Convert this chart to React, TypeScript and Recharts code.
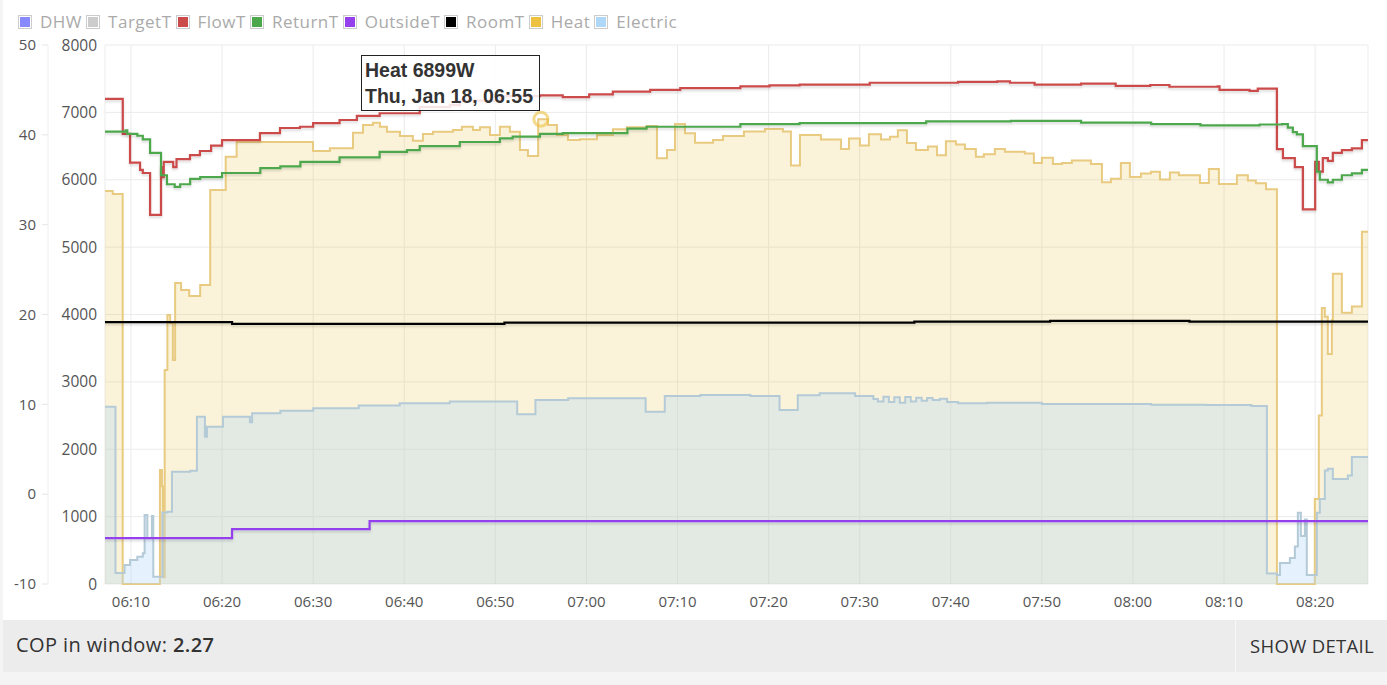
import React from "react";
import { ComposedChart, Line, Area, XAxis, YAxis, CartesianGrid, ReferenceDot } from "recharts";

// Heat pump window, Thu Jan 18 — times are minutes after 06:00
const FONT = "'Open Sans', 'Noto Sans', sans-serif";

const xTicks = [10, 20, 30, 40, 50, 60, 70, 80, 90, 100, 110, 120, 130, 140];
const tempTicks = [-10, 0, 10, 20, 30, 40, 50];
const powerTicks = [0, 1000, 2000, 3000, 4000, 5000, 6000, 7000, 8000];

const flowTimes = [7.15, 9.1, 9.9, 11.0, 11.3, 12.1, 13.3, 13.45, 13.6, 14.1, 14.64, 15.0, 16.48, 17.57, 18.8, 20.0, 24.16, 26.36, 28.55, 30.0, 32.9, 34.8, 37.3, 41.7, 45.0, 46.1, 50.5, 54.9, 57.4, 60.3, 62.9, 67.0, 70.3, 76.9, 80.1, 83.4, 91.1, 100.8, 105.1, 106.5, 109.2, 114.3, 118.1, 121.9, 124.0, 129.3, 129.5, 132.8, 133.7, 135.8, 136.46, 137.77, 138.65, 140.0, 140.4, 140.84, 141.4, 141.94, 142.93, 144.03, 145.13, 145.8];
const flowValues = [44.0, 40.1, 36.9, 36.1, 35.75, 31.1, 36.4, 35.3, 37.0, 37.0, 36.4, 37.3, 37.75, 38.2, 38.8, 39.4, 40.2, 40.76, 40.9, 41.3, 41.65, 42.1, 42.4, 43.1, 43.3, 43.8, 44.3, 44.4, 44.2, 44.5, 44.8, 45.0, 45.2, 45.4, 45.5, 45.6, 45.8, 45.9, 45.95, 45.8, 45.6, 45.7, 45.45, 45.55, 45.35, 45.4, 45.0, 44.9, 45.15, 38.4, 37.4, 36.4, 31.7, 37.0, 35.9, 37.4, 37.1, 38.0, 38.3, 38.5, 39.4, 39.4];

const returnTimes = [7.15, 9.4, 9.6, 10.7, 11.3, 12.1, 13.3, 13.95, 14.8, 15.4, 16.5, 17.6, 20.0, 24.2, 26.4, 28.6, 32.9, 37.3, 40.3, 41.7, 46.1, 50.5, 51.9, 54.9, 57.4, 64.5, 66.6, 76.9, 83.4, 97.3, 106.6, 114.3, 122.0, 127.4, 133.9, 136.35, 137.0, 137.55, 137.99, 138.65, 140.18, 140.51, 141.39, 141.94, 142.93, 144.03, 145.13, 145.8];
const returnValues = [40.35, 40.5, 40.1, 39.9, 39.5, 38.0, 35.5, 34.5, 34.2, 34.5, 35.1, 35.3, 35.75, 36.3, 36.5, 37.0, 37.5, 38.1, 38.3, 38.75, 39.2, 39.6, 39.8, 40.1, 40.2, 40.7, 40.9, 41.2, 41.3, 41.5, 41.55, 41.35, 41.2, 41.05, 41.15, 41.2, 40.8, 40.3, 40.05, 38.75, 35.9, 35.0, 34.7, 35.0, 35.5, 35.7, 36.1, 36.1];

const outsideTimes = [7.15, 21.1, 36.2, 145.8];
const outsideValues = [-4.9, -3.9, -3.0, -3.0];

const roomTimes = [7.15, 21.1, 51.0, 96.0, 110.9, 126.2, 145.8];
const roomValues = [19.15, 18.95, 19.1, 19.2, 19.3, 19.2, 19.2];

const heatTimes = [7.15, 8.0, 9.09, 13.18, 13.4, 13.5, 13.7, 14.0, 14.3, 14.6, 14.85, 15.5, 16.4, 17.6, 18.7, 20.4, 21.6, 29.98, 31.84, 34.37, 35.47, 36.56, 37.33, 38.1, 39.53, 40.95, 42.05, 43.15, 45.35, 46.33, 47.54, 48.31, 49.41, 50.5, 51.6, 52.7, 53.58, 54.7, 55.78, 56.76, 57.97, 59.29, 61.15, 62.91, 64.45, 66.64, 67.74, 68.84, 69.72, 70.82, 71.92, 73.89, 74.99, 77.29, 79.59, 81.57, 82.45, 83.44, 85.74, 87.94, 88.82, 90.02, 91.01, 92.33, 93.32, 94.19, 95.18, 96.17, 97.49, 98.48, 99.46, 100.56, 101.55, 102.75, 103.63, 104.84, 105.94, 108.13, 109.12, 110.0, 111.21, 112.2, 113.29, 115.38, 116.59, 117.58, 118.67, 119.66, 120.87, 121.97, 122.96, 124.05, 125.04, 127.35, 128.33, 129.43, 131.41, 132.61, 133.49, 134.6, 135.8, 139.96, 140.4, 140.73, 141.06, 141.39, 141.83, 141.94, 142.93, 144.03, 145.13, 145.8];
const heatValues = [5833, 5789, 0, 1692, 1450, 100, 3176, 3993, 3874, 3325, 4468, 4364, 4275, 4438, 5848, 6342, 6560, 6427, 6467, 6698, 6813, 6847, 6788, 6713, 6650, 6580, 6679, 6713, 6738, 6788, 6738, 6778, 6664, 6788, 6713, 6442, 6353, 6899, 6813, 6664, 6590, 6600, 6664, 6749, 6778, 6798, 6318, 6442, 6828, 6689, 6550, 6590, 6650, 6718, 6753, 6718, 6213, 6666, 6597, 6456, 6614, 6510, 6676, 6597, 6639, 6733, 6545, 6442, 6494, 6363, 6572, 6525, 6456, 6342, 6379, 6456, 6415, 6390, 6249, 6327, 6234, 6249, 6286, 6234, 5962, 6014, 6249, 6040, 6093, 6118, 6004, 6108, 6066, 5952, 6160, 5937, 6066, 5989, 5947, 5858, 0, 1262, 2500, 4097, 3966, 3414, 3918, 4603, 4027, 4117, 5230, 5230];

const elecTimes = [7.15, 8.3, 9.3, 9.9, 10.7, 11.3, 11.5, 11.8, 12.3, 12.45, 13.45, 14.0, 14.5, 16.5, 17.24, 18.12, 18.34, 20.1, 23.06, 23.3, 26.4, 30.0, 35.0, 39.5, 45.0, 52.4, 54.4, 58.0, 66.5, 68.6, 72.5, 78.0, 81.2, 83.2, 85.6, 89.5, 91.5, 92.0, 92.6, 93.2, 93.8, 94.4, 95.0, 95.6, 96.2, 96.8, 97.4, 98.0, 98.8, 99.6, 100.8, 104.0, 110.0, 116.4, 122.0, 128.0, 133.0, 134.7, 135.8, 136.13, 137.22, 137.77, 138.1, 138.43, 138.87, 139.08, 140.18, 140.51, 141.06, 141.39, 141.94, 143.59, 144.03, 145.8];
const elecValues = [2632, 163, 282, 356, 405, 455, 1024, 679, 1010, 108, 1060, 1073, 1667, 1680, 2483, 2186, 2335, 2483, 2400, 2534, 2570, 2608, 2650, 2683, 2707, 2519, 2730, 2756, 2558, 2790, 2805, 2790, 2583, 2800, 2831, 2790, 2745, 2710, 2780, 2700, 2770, 2690, 2775, 2710, 2765, 2720, 2760, 2730, 2750, 2700, 2683, 2690, 2672, 2672, 2660, 2655, 2642, 156, 134, 312, 386, 557, 1058, 712, 957, 134, 1058, 1262, 1685, 1710, 1558, 1610, 1885, 1885];

const legendItems = [
  { name: "DHW", color: "#8888ff" },
  { name: "TargetT", color: "#cccccc" },
  { name: "FlowT", color: "#cb4b4b" },
  { name: "ReturnT", color: "#4da74d" },
  { name: "OutsideT", color: "#9440ed" },
  { name: "RoomT", color: "#000000" },
  { name: "Heat", color: "#edc240" },
  { name: "Electric", color: "#afd8f8" },
];

const series = (times: number[], values: number[]) => times.map((t, i) => ({ t, v: values[i] }));

const fmtTime = (t: number) => {
  const h = 6 + Math.floor(t / 60);
  const m = Math.round(t % 60);
  return `${String(h).padStart(2, "0")}:${String(m).padStart(2, "0")}`;
};

const tickStyle = { fill: "#555", fontSize: 15, fontFamily: FONT };

function Legend() {
  return (
    <div style={{ position: "absolute", left: 18, top: 10, display: "flex", alignItems: "center", fontFamily: FONT, fontSize: 17, letterSpacing: 0.5, color: "#aaa" }}>
      {legendItems.map((it) => (
        <div key={it.name} style={{ display: "flex", alignItems: "center", marginRight: 4 }}>
          <div style={{ border: "1px solid #ccc", padding: 1, width: 14, height: 14, boxSizing: "border-box", marginRight: 8 }}>
            <div style={{ width: 10, height: 10, background: it.color }} />
          </div>
          <span>{it.name}</span>
        </div>
      ))}
    </div>
  );
}

export default function App() {
  return (
    <div style={{ position: "absolute", left: 0, top: 0, width: 1387, height: 685, background: "#f4f4f4", overflow: "hidden" }}>
      <svg width={0} height={0} style={{ position: "absolute" }}>
        <defs>
          <filter id="shadow" filterUnits="userSpaceOnUse" x={0} y={0} width={1387} height={620}>
            <feDropShadow dx={0} dy={2} stdDeviation={0.8} floodColor="#000" floodOpacity={0.14} />
          </filter>
        </defs>
      </svg>
      <div style={{ position: "absolute", left: 3, top: 0, width: 1384, height: 620, background: "#fff" }} />
      <div style={{ position: "absolute", left: 0, top: 0 }}>
        <ComposedChart width={1387} height={620} margin={{ top: 45, right: 19, bottom: 6, left: 0 }}>
          <CartesianGrid yAxisId="p" stroke="#ebebeb" ticks={powerTicks} />
          <XAxis
            dataKey="t"
            type="number"
            domain={[7.15, 145.8]}
            allowDataOverflow
            ticks={xTicks}
            tickFormatter={fmtTime}
            tick={tickStyle}
            tickLine={false}
            axisLine={false}
            height={30}
            tickMargin={6}
          />
          <YAxis
            yAxisId="p"
            domain={[0, 8000]}
            ticks={powerTicks}
            tick={{ ...tickStyle, fontSize: 15.5 }}
            tickLine={false}
            axisLine={false}
            width={57}
            tickMargin={2}
          />
          <YAxis
            yAxisId="t"
            domain={[-10, 50]}
            ticks={tempTicks}
            tick={tickStyle}
            tickLine={{ stroke: "#e6e6e6" }}
            axisLine={{ stroke: "#eeeeee" }}
            tickSize={6}
            tickMargin={6}
            width={48}
          />
          <Line yAxisId="t" data={series(flowTimes, flowValues)} dataKey="v" type="stepAfter" stroke="#cb4b4b" strokeWidth={2.2} dot={false} filter="url(#shadow)" isAnimationActive={false} />
          <Line yAxisId="t" data={series(returnTimes, returnValues)} dataKey="v" type="stepAfter" stroke="#4da74d" strokeWidth={2.2} dot={false} filter="url(#shadow)" isAnimationActive={false} />
          <Line yAxisId="t" data={series(outsideTimes, outsideValues)} dataKey="v" type="stepAfter" stroke="#9440ed" strokeWidth={2.2} dot={false} filter="url(#shadow)" isAnimationActive={false} />
          <Line yAxisId="t" data={series(roomTimes, roomValues)} dataKey="v" type="stepAfter" stroke="#000" strokeWidth={2.2} dot={false} filter="url(#shadow)" isAnimationActive={false} />
          <Area yAxisId="p" data={series(heatTimes, heatValues)} dataKey="v" type="stepAfter" stroke="#e8ca80" strokeWidth={2} fill="#edc240" fillOpacity={0.2} isAnimationActive={false} />
          <Area yAxisId="p" data={series(elecTimes, elecValues)} dataKey="v" type="stepAfter" stroke="#b4cad7" strokeWidth={2} fill="#afd8f8" fillOpacity={0.32} isAnimationActive={false} />
          <ReferenceDot yAxisId="p" x={55} y={6899} r={7} fill="none" stroke="#edc240" strokeOpacity={0.6} strokeWidth={3} />
        </ComposedChart>
      </div>
      <Legend />
      <div style={{ position: "absolute", left: 361, top: 55, width: 179, height: 56, boxSizing: "border-box", border: "1px solid #222", background: "rgba(255,255,255,0.85)", fontFamily: "'Liberation Sans', Arial, sans-serif", fontWeight: "bold", fontSize: 19.5, color: "#333", padding: "1px 3px", lineHeight: "26px", whiteSpace: "nowrap" }}>
        <div>Heat 6899W</div>
        <div>Thu, Jan 18, 06:55</div>
      </div>
      <div style={{ position: "absolute", left: 3, top: 620, width: 1384, height: 52, background: "#ececec", fontFamily: FONT, color: "#333" }}>
        <div style={{ position: "absolute", left: 13, top: 0, lineHeight: "50px", fontSize: 20, letterSpacing: 0.4 }}>
          COP in window: <b style={{ fontWeight: 600 }}>2.27</b>
        </div>
        <div style={{ position: "absolute", left: 1232, top: 0, width: 152, height: 52, borderLeft: "1px solid #f8f8f8", lineHeight: "52px", fontSize: 18.5, letterSpacing: 0.3, textAlign: "center" }}>
          SHOW DETAIL
        </div>
      </div>
    </div>
  );
}
